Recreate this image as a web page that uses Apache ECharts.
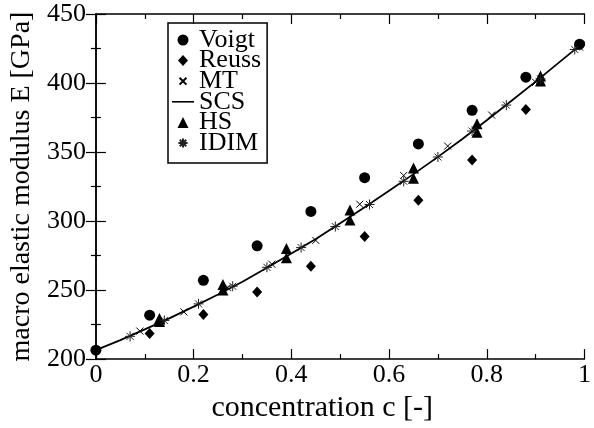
<!DOCTYPE html>
<html>
<head>
<meta charset="utf-8">
<script src="https://cdn.jsdelivr.net/npm/echarts@6/dist/echarts.min.js"></script>
<style>
html,body{margin:0;padding:0;background:#fff;}
#chart{width:594px;height:428px;}
</style>
</head>
<body>
<div id="chart"></div>
<script>
// ---- data ----
var voigtC = [0, 0.11, 0.22, 0.33, 0.44, 0.55, 0.66, 0.77, 0.88, 0.99];
var voigtE = [206.5, 231.8, 257.1, 282.1, 307.0, 331.4, 355.9, 380.2, 404.2, 428.1];

var reussC = [0, 0.11, 0.22, 0.33, 0.44, 0.55, 0.66, 0.77, 0.88, 0.99];
var reussE = [206.5, 218.5, 232.4, 248.6, 267.2, 288.8, 315.0, 344.2, 380.8, 427.5];

var mtC = [0.09, 0.18, 0.27, 0.36, 0.45, 0.54, 0.63, 0.72, 0.81, 0.90, 0.99];
var mtE = [220.3, 234.2, 251.8, 268.8, 286.0, 312.2, 333.0, 354.3, 376.8, 400.5, 426.0];

var scsC = [0, 0.05, 0.10, 0.15, 0.20, 0.25, 0.30, 0.35, 0.40, 0.45, 0.50, 0.55, 0.60, 0.65, 0.70, 0.75, 0.80, 0.85, 0.90, 0.95, 1.00];
var scsE = [206.5, 213.8, 221.5, 229.5, 238.0, 246.8, 256.0, 266.2, 276.5, 287.0, 298.5, 310.0, 322.0, 334.0, 346.5, 359.5, 373.0, 387.0, 401.0, 415.5, 430.0];

var hsC = [0.13, 0.13, 0.26, 0.26, 0.39, 0.39, 0.52, 0.52, 0.65, 0.65, 0.78, 0.78, 0.91, 0.91];
var hsE = [229.5, 227.3, 254.0, 250.0, 280.2, 273.5, 308.0, 300.7, 338.5, 331.0, 370.5, 364.3, 405.0, 401.5];

var idimC = [0.07, 0.14, 0.21, 0.28, 0.35, 0.42, 0.49, 0.56, 0.63, 0.70, 0.77, 0.84, 0.91, 0.98];
var idimE = [216.5, 228.0, 240.0, 252.8, 266.5, 280.8, 296.0, 312.0, 328.8, 346.4, 365.2, 384.0, 403.0, 424.3];

var xTicks = {min: 0, max: 1, step: 0.2};
var yTicks = {min: 200, max: 450, step: 50};
var legendNames = ['Voigt', 'Reuss', 'MT', 'SCS', 'HS', 'IDIM'];

function pairs(c, e) { return c.map(function (v, i) { return [v, e[i]]; }); }

var FONT = "'Liberation Serif','Times New Roman',serif";
var crossPath = 'path://M0,0L10,10M10,0L0,10';
var starPath = 'path://M5,0L5,10M0,5L10,5M1.5,1.5L8.5,8.5M8.5,1.5L1.5,8.5';
var crossIcon = 'path://M-3,-3M13,13M0,0L10,10M10,0L0,10';
var starIcon = 'path://M-1,-1M11,11M5,0L5,10M0,5L10,5M1.5,1.5L8.5,8.5M8.5,1.5L1.5,8.5';
var circleIcon = 'path://M5,0A5,5,0,1,1,4.99,0Z';
var diamondIcon = 'path://M5,0L10,5.5L5,11L0,5.5Z';
var triIcon = 'path://M5,0L10,10L0,10Z';
var lineIcon = 'path://M0,0L22,0L22,1.6L0,1.6Z';

var axisLine = {show: true, lineStyle: {color: '#000', width: 1.5}};
var tickMaj = {show: true, inside: true, length: 10, lineStyle: {color: '#000', width: 1.2}};
var tickMin = {show: true, splitNumber: 2, length: 5, lineStyle: {color: '#000', width: 1.2}};

var chart = echarts.init(document.getElementById('chart'), null, {renderer: 'canvas'});
chart.setOption({
  animation: false,
  backgroundColor: '#fff',
  grid: {left: 93, right: 3, top: 14, bottom: 66},
  xAxis: [{
    type: 'value', min: xTicks.min, max: xTicks.max, interval: xTicks.step, position: 'bottom',
    axisLine: axisLine, axisTick: tickMaj, minorTick: tickMin, splitLine: {show: false},
    axisLabel: {fontFamily: FONT, fontSize: 26, color: '#000', margin: 3},
    name: 'concentration c [-]', nameLocation: 'middle', nameGap: 33,
    nameTextStyle: {fontFamily: FONT, fontSize: 30, color: '#000', padding: [0, 36, 0, 0]}
  }, {
    type: 'value', min: xTicks.min, max: xTicks.max, interval: xTicks.step, position: 'top',
    axisLine: axisLine, axisTick: tickMaj, minorTick: tickMin, splitLine: {show: false},
    axisLabel: {show: false}
  }],
  yAxis: [{
    type: 'value', min: yTicks.min, max: yTicks.max, interval: yTicks.step, position: 'left',
    axisLine: axisLine, axisTick: tickMaj, minorTick: tickMin, splitLine: {show: false},
    axisLabel: {fontFamily: FONT, fontSize: 26, color: '#000', margin: 10},
    name: 'macro elastic modulus E [GPa]', nameLocation: 'middle', nameGap: 52,
    nameTextStyle: {fontFamily: FONT, fontSize: 28, color: '#000'}
  }, {
    type: 'value', min: yTicks.min, max: yTicks.max, interval: yTicks.step, position: 'right',
    axisLine: axisLine, axisTick: tickMaj, minorTick: tickMin, splitLine: {show: false},
    axisLabel: {show: false}
  }],
  legend: {
    data: [
      {name: legendNames[0], icon: circleIcon},
      {name: legendNames[1], icon: diamondIcon},
      {name: legendNames[2], icon: crossIcon},
      {name: legendNames[3], icon: lineIcon},
      {name: legendNames[4], icon: triIcon},
      {name: legendNames[5], icon: starIcon}
    ],
    orient: 'vertical', left: 168, top: 23,
    padding: [4, 6, 7, 4], itemGap: -5.4, itemWidth: 22, itemHeight: 11,
    symbolKeepAspect: true,
    borderColor: '#000', borderWidth: 1.5,
    textStyle: {fontFamily: FONT, fontSize: 26, color: '#000'}
  },
  series: [
    {name: 'SCS', type: 'line', data: pairs(scsC, scsE), symbol: 'none', showSymbol: false,
     lineStyle: {color: '#000', width: 1.8}, itemStyle: {color: '#000'}, z: 1},
    {name: 'Voigt', type: 'scatter', data: pairs(voigtC, voigtE), symbol: 'circle', symbolSize: 11,
     itemStyle: {color: '#000', opacity: 1}, z: 3},
    {name: 'Reuss', type: 'scatter', data: pairs(reussC, reussE), symbol: 'diamond', symbolSize: [10, 11],
     itemStyle: {color: '#000', opacity: 1}, z: 3},
    {name: 'HS', type: 'scatter', data: pairs(hsC, hsE), symbol: 'triangle', symbolSize: 11,
     itemStyle: {color: '#000', opacity: 1}, z: 3},
    {name: 'MT', type: 'scatter', data: pairs(mtC, mtE), symbol: crossPath, symbolSize: 7,
     itemStyle: {color: 'rgba(0,0,0,0)', borderColor: '#000', borderWidth: 1, opacity: 1}, z: 4},
    {name: 'IDIM', type: 'scatter', data: pairs(idimC, idimE), symbol: starPath, symbolSize: 10,
     itemStyle: {color: 'rgba(0,0,0,0)', borderColor: '#222', borderWidth: 1, opacity: 1}, z: 4}
  ]
});
</script>
</body>
</html>
